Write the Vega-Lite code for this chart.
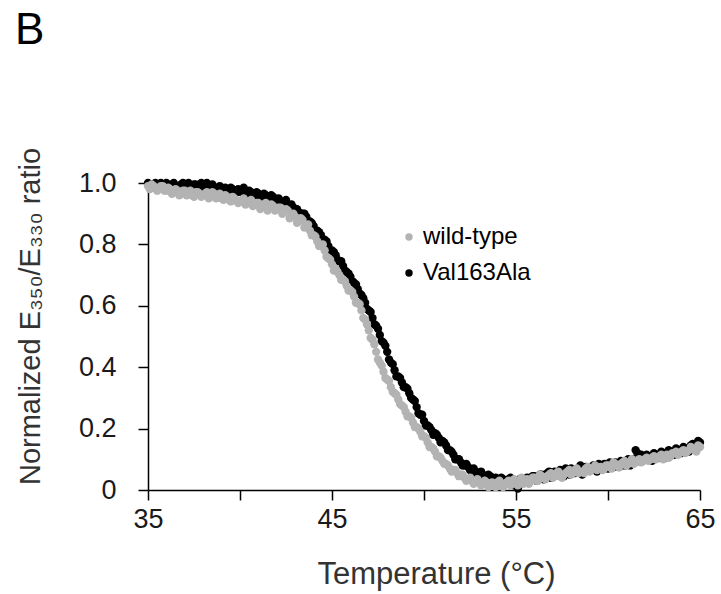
{
  "$schema": "https://vega.github.io/schema/vega-lite/v6.json",
  "width": 552,
  "height": 307,
  "autosize": "none",
  "padding": {"left": 148, "top": 183, "right": 21, "bottom": 104},
  "background": "white",
  "title": {"text": "B", "anchor": "start", "frame": "group", "dx": -133, "offset": 94, "fontSize": 44, "fontWeight": "normal", "font": "Liberation Sans", "color": "#000000"},
  "config": {
    "view": {"stroke": null},
    "font": "Liberation Sans",
    "axis": {"grid": false, "domainColor": "#000000", "tickColor": "#000000", "domainWidth": 1.5, "tickWidth": 1.5, "tickSize": 10, "labelFont": "Liberation Sans", "titleFont": "Liberation Sans", "labelFontSize": 27, "titleFontSize": 28, "titleFontWeight": "normal", "labelColor": "#1a1a1a", "titleColor": "#333333"}
  },
  "datasets": {
    "pts": [
      {"T":35.0,"r":1.0,"s":"Val163Ala"},{"T":35.2,"r":0.99,"s":"Val163Ala"},{"T":35.4,"r":1.0,"s":"Val163Ala"},{"T":35.6,"r":0.995,"s":"Val163Ala"},{"T":35.8,"r":0.985,"s":"Val163Ala"},
      {"T":36.0,"r":1.0,"s":"Val163Ala"},{"T":36.2,"r":0.99,"s":"Val163Ala"},{"T":36.4,"r":1.0,"s":"Val163Ala"},{"T":36.6,"r":0.985,"s":"Val163Ala"},{"T":36.8,"r":0.995,"s":"Val163Ala"},
      {"T":37.0,"r":0.99,"s":"Val163Ala"},{"T":37.2,"r":1.0,"s":"Val163Ala"},{"T":37.4,"r":0.985,"s":"Val163Ala"},{"T":37.6,"r":0.995,"s":"Val163Ala"},{"T":37.8,"r":0.99,"s":"Val163Ala"},
      {"T":38.0,"r":0.985,"s":"Val163Ala"},{"T":38.2,"r":1.0,"s":"Val163Ala"},{"T":38.4,"r":0.99,"s":"Val163Ala"},{"T":38.6,"r":0.98,"s":"Val163Ala"},{"T":38.8,"r":0.985,"s":"Val163Ala"},
      {"T":39.0,"r":0.975,"s":"Val163Ala"},{"T":39.2,"r":0.985,"s":"Val163Ala"},{"T":39.4,"r":0.975,"s":"Val163Ala"},{"T":39.6,"r":0.98,"s":"Val163Ala"},{"T":39.8,"r":0.97,"s":"Val163Ala"},
      {"T":40.0,"r":0.975,"s":"Val163Ala"},{"T":40.2,"r":0.985,"s":"Val163Ala"},{"T":40.4,"r":0.965,"s":"Val163Ala"},{"T":40.6,"r":0.97,"s":"Val163Ala"},{"T":40.8,"r":0.96,"s":"Val163Ala"},
      {"T":41.0,"r":0.965,"s":"Val163Ala"},{"T":41.2,"r":0.955,"s":"Val163Ala"},{"T":41.4,"r":0.96,"s":"Val163Ala"},{"T":41.6,"r":0.95,"s":"Val163Ala"},{"T":41.8,"r":0.955,"s":"Val163Ala"},
      {"T":42.0,"r":0.945,"s":"Val163Ala"},{"T":42.2,"r":0.935,"s":"Val163Ala"},{"T":42.4,"r":0.94,"s":"Val163Ala"},{"T":42.6,"r":0.925,"s":"Val163Ala"},{"T":42.8,"r":0.93,"s":"Val163Ala"},
      {"T":43.0,"r":0.915,"s":"Val163Ala"},{"T":43.2,"r":0.905,"s":"Val163Ala"},{"T":43.4,"r":0.9,"s":"Val163Ala"},{"T":43.6,"r":0.89,"s":"Val163Ala"},{"T":43.8,"r":0.875,"s":"Val163Ala"},
      {"T":44.0,"r":0.86,"s":"Val163Ala"},{"T":44.2,"r":0.845,"s":"Val163Ala"},{"T":44.4,"r":0.83,"s":"Val163Ala"},{"T":44.6,"r":0.815,"s":"Val163Ala"},{"T":44.8,"r":0.795,"s":"Val163Ala"},
      {"T":45.0,"r":0.78,"s":"Val163Ala"},{"T":45.2,"r":0.765,"s":"Val163Ala"},{"T":45.4,"r":0.745,"s":"Val163Ala"},{"T":45.6,"r":0.73,"s":"Val163Ala"},{"T":45.8,"r":0.71,"s":"Val163Ala"},
      {"T":46.0,"r":0.695,"s":"Val163Ala"},{"T":46.2,"r":0.675,"s":"Val163Ala"},{"T":46.4,"r":0.655,"s":"Val163Ala"},{"T":46.6,"r":0.635,"s":"Val163Ala"},{"T":46.8,"r":0.61,"s":"Val163Ala"},
      {"T":47.0,"r":0.585,"s":"Val163Ala"},{"T":47.2,"r":0.56,"s":"Val163Ala"},{"T":47.4,"r":0.535,"s":"Val163Ala"},{"T":47.6,"r":0.505,"s":"Val163Ala"},{"T":47.8,"r":0.48,"s":"Val163Ala"},
      {"T":48.0,"r":0.45,"s":"Val163Ala"},{"T":48.2,"r":0.415,"s":"Val163Ala"},{"T":48.4,"r":0.39,"s":"Val163Ala"},{"T":48.6,"r":0.37,"s":"Val163Ala"},{"T":48.8,"r":0.35,"s":"Val163Ala"},
      {"T":49.0,"r":0.335,"s":"Val163Ala"},{"T":49.2,"r":0.315,"s":"Val163Ala"},{"T":49.4,"r":0.295,"s":"Val163Ala"},{"T":49.6,"r":0.27,"s":"Val163Ala"},{"T":49.8,"r":0.245,"s":"Val163Ala"},
      {"T":50.0,"r":0.225,"s":"Val163Ala"},{"T":50.2,"r":0.21,"s":"Val163Ala"},{"T":50.4,"r":0.195,"s":"Val163Ala"},{"T":50.6,"r":0.185,"s":"Val163Ala"},{"T":50.8,"r":0.17,"s":"Val163Ala"},
      {"T":51.0,"r":0.16,"s":"Val163Ala"},{"T":51.2,"r":0.145,"s":"Val163Ala"},{"T":51.4,"r":0.13,"s":"Val163Ala"},{"T":51.6,"r":0.115,"s":"Val163Ala"},{"T":51.8,"r":0.1,"s":"Val163Ala"},
      {"T":52.0,"r":0.09,"s":"Val163Ala"},{"T":52.2,"r":0.08,"s":"Val163Ala"},{"T":52.4,"r":0.075,"s":"Val163Ala"},{"T":52.6,"r":0.065,"s":"Val163Ala"},{"T":52.8,"r":0.06,"s":"Val163Ala"},
      {"T":53.0,"r":0.055,"s":"Val163Ala"},{"T":53.2,"r":0.05,"s":"Val163Ala"},{"T":53.4,"r":0.04,"s":"Val163Ala"},{"T":53.6,"r":0.045,"s":"Val163Ala"},{"T":53.8,"r":0.035,"s":"Val163Ala"},
      {"T":54.0,"r":0.03,"s":"Val163Ala"},{"T":54.2,"r":0.04,"s":"Val163Ala"},{"T":54.4,"r":0.025,"s":"Val163Ala"},{"T":54.6,"r":0.035,"s":"Val163Ala"},{"T":54.8,"r":0.03,"s":"Val163Ala"},
      {"T":55.0,"r":0.02,"s":"Val163Ala"},{"T":55.2,"r":0.035,"s":"Val163Ala"},{"T":55.4,"r":0.03,"s":"Val163Ala"},{"T":55.6,"r":0.04,"s":"Val163Ala"},{"T":55.8,"r":0.03,"s":"Val163Ala"},
      {"T":56.0,"r":0.045,"s":"Val163Ala"},{"T":56.2,"r":0.035,"s":"Val163Ala"},{"T":56.4,"r":0.05,"s":"Val163Ala"},{"T":56.6,"r":0.04,"s":"Val163Ala"},{"T":56.8,"r":0.06,"s":"Val163Ala"},
      {"T":57.0,"r":0.045,"s":"Val163Ala"},{"T":57.2,"r":0.05,"s":"Val163Ala"},{"T":57.4,"r":0.065,"s":"Val163Ala"},{"T":57.6,"r":0.045,"s":"Val163Ala"},{"T":57.8,"r":0.06,"s":"Val163Ala"},
      {"T":58.0,"r":0.07,"s":"Val163Ala"},{"T":58.2,"r":0.055,"s":"Val163Ala"},{"T":58.4,"r":0.065,"s":"Val163Ala"},{"T":58.6,"r":0.05,"s":"Val163Ala"},{"T":58.8,"r":0.075,"s":"Val163Ala"},
      {"T":59.0,"r":0.065,"s":"Val163Ala"},{"T":59.2,"r":0.08,"s":"Val163Ala"},{"T":59.4,"r":0.06,"s":"Val163Ala"},{"T":59.6,"r":0.075,"s":"Val163Ala"},{"T":59.8,"r":0.085,"s":"Val163Ala"},
      {"T":60.0,"r":0.07,"s":"Val163Ala"},{"T":60.2,"r":0.08,"s":"Val163Ala"},{"T":60.4,"r":0.09,"s":"Val163Ala"},{"T":60.6,"r":0.075,"s":"Val163Ala"},{"T":60.8,"r":0.085,"s":"Val163Ala"},
      {"T":61.0,"r":0.095,"s":"Val163Ala"},{"T":61.2,"r":0.08,"s":"Val163Ala"},{"T":61.4,"r":0.1,"s":"Val163Ala"},{"T":61.6,"r":0.12,"s":"Val163Ala"},{"T":61.8,"r":0.115,"s":"Val163Ala"},
      {"T":62.0,"r":0.1,"s":"Val163Ala"},{"T":62.2,"r":0.11,"s":"Val163Ala"},{"T":62.4,"r":0.095,"s":"Val163Ala"},{"T":62.6,"r":0.115,"s":"Val163Ala"},{"T":62.8,"r":0.105,"s":"Val163Ala"},
      {"T":63.0,"r":0.12,"s":"Val163Ala"},{"T":63.2,"r":0.11,"s":"Val163Ala"},{"T":63.4,"r":0.125,"s":"Val163Ala"},{"T":63.6,"r":0.115,"s":"Val163Ala"},{"T":63.8,"r":0.13,"s":"Val163Ala"},
      {"T":64.0,"r":0.12,"s":"Val163Ala"},{"T":64.2,"r":0.135,"s":"Val163Ala"},{"T":64.4,"r":0.125,"s":"Val163Ala"},{"T":64.6,"r":0.15,"s":"Val163Ala"},{"T":64.8,"r":0.14,"s":"Val163Ala"},
      {"T":65.0,"r":0.155,"s":"Val163Ala"},
      {"T":35.1,"r":0.995,"s":"Val163Ala"},{"T":35.3,"r":0.985,"s":"Val163Ala"},{"T":35.5,"r":0.99,"s":"Val163Ala"},{"T":35.7,"r":1.0,"s":"Val163Ala"},{"T":35.9,"r":0.99,"s":"Val163Ala"},
      {"T":36.1,"r":0.985,"s":"Val163Ala"},{"T":36.3,"r":0.995,"s":"Val163Ala"},{"T":36.5,"r":0.98,"s":"Val163Ala"},{"T":36.7,"r":0.99,"s":"Val163Ala"},{"T":36.9,"r":1.0,"s":"Val163Ala"},
      {"T":37.1,"r":0.985,"s":"Val163Ala"},{"T":37.3,"r":0.99,"s":"Val163Ala"},{"T":37.5,"r":0.995,"s":"Val163Ala"},{"T":37.7,"r":0.98,"s":"Val163Ala"},{"T":37.9,"r":1.0,"s":"Val163Ala"},
      {"T":38.1,"r":0.99,"s":"Val163Ala"},{"T":38.3,"r":0.98,"s":"Val163Ala"},{"T":38.5,"r":0.995,"s":"Val163Ala"},{"T":38.7,"r":0.975,"s":"Val163Ala"},{"T":38.9,"r":0.99,"s":"Val163Ala"},
      {"T":39.1,"r":0.98,"s":"Val163Ala"},{"T":39.3,"r":0.97,"s":"Val163Ala"},{"T":39.5,"r":0.985,"s":"Val163Ala"},{"T":39.7,"r":0.965,"s":"Val163Ala"},{"T":39.9,"r":0.98,"s":"Val163Ala"},
      {"T":40.1,"r":0.97,"s":"Val163Ala"},{"T":40.3,"r":0.96,"s":"Val163Ala"},{"T":40.5,"r":0.975,"s":"Val163Ala"},{"T":40.7,"r":0.955,"s":"Val163Ala"},{"T":40.9,"r":0.97,"s":"Val163Ala"},
      {"T":41.1,"r":0.95,"s":"Val163Ala"},{"T":41.3,"r":0.965,"s":"Val163Ala"},{"T":41.5,"r":0.945,"s":"Val163Ala"},{"T":41.7,"r":0.96,"s":"Val163Ala"},{"T":41.9,"r":0.94,"s":"Val163Ala"},
      {"T":42.1,"r":0.95,"s":"Val163Ala"},{"T":42.3,"r":0.93,"s":"Val163Ala"},{"T":42.5,"r":0.945,"s":"Val163Ala"},{"T":42.7,"r":0.92,"s":"Val163Ala"},{"T":42.9,"r":0.92,"s":"Val163Ala"},
      {"T":43.1,"r":0.915,"s":"Val163Ala"},{"T":43.3,"r":0.895,"s":"Val163Ala"},{"T":43.5,"r":0.9,"s":"Val163Ala"},{"T":43.7,"r":0.875,"s":"Val163Ala"},{"T":43.9,"r":0.87,"s":"Val163Ala"},
      {"T":44.1,"r":0.845,"s":"Val163Ala"},{"T":44.3,"r":0.84,"s":"Val163Ala"},{"T":44.5,"r":0.815,"s":"Val163Ala"},{"T":44.7,"r":0.81,"s":"Val163Ala"},{"T":44.9,"r":0.78,"s":"Val163Ala"},
      {"T":45.1,"r":0.775,"s":"Val163Ala"},{"T":45.3,"r":0.75,"s":"Val163Ala"},{"T":45.5,"r":0.745,"s":"Val163Ala"},{"T":45.7,"r":0.715,"s":"Val163Ala"},{"T":45.9,"r":0.705,"s":"Val163Ala"},
      {"T":46.1,"r":0.68,"s":"Val163Ala"},{"T":46.3,"r":0.67,"s":"Val163Ala"},{"T":46.5,"r":0.64,"s":"Val163Ala"},{"T":46.7,"r":0.625,"s":"Val163Ala"},{"T":46.9,"r":0.59,"s":"Val163Ala"},
      {"T":47.1,"r":0.58,"s":"Val163Ala"},{"T":47.3,"r":0.54,"s":"Val163Ala"},{"T":47.5,"r":0.525,"s":"Val163Ala"},{"T":47.7,"r":0.485,"s":"Val163Ala"},{"T":47.9,"r":0.47,"s":"Val163Ala"},
      {"T":48.1,"r":0.425,"s":"Val163Ala"},{"T":48.3,"r":0.41,"s":"Val163Ala"},{"T":48.5,"r":0.37,"s":"Val163Ala"},{"T":48.7,"r":0.365,"s":"Val163Ala"},{"T":48.9,"r":0.335,"s":"Val163Ala"},
      {"T":49.1,"r":0.33,"s":"Val163Ala"},{"T":49.3,"r":0.3,"s":"Val163Ala"},{"T":49.5,"r":0.29,"s":"Val163Ala"},{"T":49.7,"r":0.25,"s":"Val163Ala"},{"T":49.9,"r":0.245,"s":"Val163Ala"},
      {"T":50.1,"r":0.21,"s":"Val163Ala"},{"T":50.3,"r":0.205,"s":"Val163Ala"},{"T":50.5,"r":0.18,"s":"Val163Ala"},{"T":50.7,"r":0.18,"s":"Val163Ala"},{"T":50.9,"r":0.155,"s":"Val163Ala"},
      {"T":51.1,"r":0.155,"s":"Val163Ala"},{"T":51.3,"r":0.13,"s":"Val163Ala"},{"T":51.5,"r":0.125,"s":"Val163Ala"},{"T":51.7,"r":0.1,"s":"Val163Ala"},{"T":51.9,"r":0.1,"s":"Val163Ala"},
      {"T":52.1,"r":0.08,"s":"Val163Ala"},{"T":52.3,"r":0.085,"s":"Val163Ala"},{"T":52.5,"r":0.065,"s":"Val163Ala"},{"T":52.7,"r":0.07,"s":"Val163Ala"},{"T":52.9,"r":0.05,"s":"Val163Ala"},
      {"T":53.1,"r":0.06,"s":"Val163Ala"},{"T":53.3,"r":0.04,"s":"Val163Ala"},{"T":53.5,"r":0.05,"s":"Val163Ala"},{"T":53.7,"r":0.03,"s":"Val163Ala"},{"T":53.9,"r":0.04,"s":"Val163Ala"},
      {"T":54.1,"r":0.025,"s":"Val163Ala"},{"T":54.3,"r":0.035,"s":"Val163Ala"},{"T":54.5,"r":0.02,"s":"Val163Ala"},{"T":54.7,"r":0.04,"s":"Val163Ala"},{"T":54.9,"r":0.015,"s":"Val163Ala"},
      {"T":55.1,"r":0.005,"s":"Val163Ala"},{"T":55.3,"r":0.025,"s":"Val163Ala"},{"T":55.5,"r":0.035,"s":"Val163Ala"},{"T":55.7,"r":0.025,"s":"Val163Ala"},{"T":55.9,"r":0.045,"s":"Val163Ala"},
      {"T":56.1,"r":0.03,"s":"Val163Ala"},{"T":56.3,"r":0.05,"s":"Val163Ala"},{"T":56.5,"r":0.035,"s":"Val163Ala"},{"T":56.7,"r":0.055,"s":"Val163Ala"},{"T":56.9,"r":0.04,"s":"Val163Ala"},
      {"T":57.1,"r":0.06,"s":"Val163Ala"},{"T":57.3,"r":0.05,"s":"Val163Ala"},{"T":57.5,"r":0.055,"s":"Val163Ala"},{"T":57.7,"r":0.07,"s":"Val163Ala"},{"T":57.9,"r":0.05,"s":"Val163Ala"},
      {"T":58.1,"r":0.065,"s":"Val163Ala"},{"T":58.3,"r":0.06,"s":"Val163Ala"},{"T":58.5,"r":0.08,"s":"Val163Ala"},{"T":58.7,"r":0.06,"s":"Val163Ala"},{"T":58.9,"r":0.07,"s":"Val163Ala"},
      {"T":59.1,"r":0.075,"s":"Val163Ala"},{"T":59.3,"r":0.065,"s":"Val163Ala"},{"T":59.5,"r":0.085,"s":"Val163Ala"},{"T":59.7,"r":0.07,"s":"Val163Ala"},{"T":59.9,"r":0.08,"s":"Val163Ala"},
      {"T":60.1,"r":0.09,"s":"Val163Ala"},{"T":60.3,"r":0.075,"s":"Val163Ala"},{"T":60.5,"r":0.085,"s":"Val163Ala"},{"T":60.7,"r":0.095,"s":"Val163Ala"},{"T":60.9,"r":0.08,"s":"Val163Ala"},
      {"T":61.1,"r":0.1,"s":"Val163Ala"},{"T":61.3,"r":0.09,"s":"Val163Ala"},{"T":61.5,"r":0.13,"s":"Val163Ala"},{"T":61.7,"r":0.105,"s":"Val163Ala"},{"T":61.9,"r":0.095,"s":"Val163Ala"},
      {"T":62.1,"r":0.115,"s":"Val163Ala"},{"T":62.3,"r":0.1,"s":"Val163Ala"},{"T":62.5,"r":0.12,"s":"Val163Ala"},{"T":62.7,"r":0.11,"s":"Val163Ala"},{"T":62.9,"r":0.125,"s":"Val163Ala"},
      {"T":63.1,"r":0.105,"s":"Val163Ala"},{"T":63.3,"r":0.13,"s":"Val163Ala"},{"T":63.5,"r":0.12,"s":"Val163Ala"},{"T":63.7,"r":0.135,"s":"Val163Ala"},{"T":63.9,"r":0.125,"s":"Val163Ala"},
      {"T":64.1,"r":0.14,"s":"Val163Ala"},{"T":64.3,"r":0.13,"s":"Val163Ala"},{"T":64.5,"r":0.145,"s":"Val163Ala"},{"T":64.7,"r":0.135,"s":"Val163Ala"},{"T":64.9,"r":0.16,"s":"Val163Ala"},
      {"T":35.0,"r":0.99,"s":"wild-type"},{"T":35.2,"r":0.995,"s":"wild-type"},{"T":35.4,"r":0.985,"s":"wild-type"},{"T":35.6,"r":0.98,"s":"wild-type"},{"T":35.8,"r":0.99,"s":"wild-type"},
      {"T":36.0,"r":0.975,"s":"wild-type"},{"T":36.2,"r":0.98,"s":"wild-type"},{"T":36.4,"r":0.97,"s":"wild-type"},{"T":36.6,"r":0.975,"s":"wild-type"},{"T":36.8,"r":0.965,"s":"wild-type"},
      {"T":37.0,"r":0.975,"s":"wild-type"},{"T":37.2,"r":0.97,"s":"wild-type"},{"T":37.4,"r":0.96,"s":"wild-type"},{"T":37.6,"r":0.97,"s":"wild-type"},{"T":37.8,"r":0.965,"s":"wild-type"},
      {"T":38.0,"r":0.96,"s":"wild-type"},{"T":38.2,"r":0.97,"s":"wild-type"},{"T":38.4,"r":0.955,"s":"wild-type"},{"T":38.6,"r":0.965,"s":"wild-type"},{"T":38.8,"r":0.96,"s":"wild-type"},
      {"T":39.0,"r":0.95,"s":"wild-type"},{"T":39.2,"r":0.96,"s":"wild-type"},{"T":39.4,"r":0.945,"s":"wild-type"},{"T":39.6,"r":0.955,"s":"wild-type"},{"T":39.8,"r":0.945,"s":"wild-type"},
      {"T":40.0,"r":0.94,"s":"wild-type"},{"T":40.2,"r":0.95,"s":"wild-type"},{"T":40.4,"r":0.935,"s":"wild-type"},{"T":40.6,"r":0.945,"s":"wild-type"},{"T":40.8,"r":0.93,"s":"wild-type"},
      {"T":41.0,"r":0.935,"s":"wild-type"},{"T":41.2,"r":0.925,"s":"wild-type"},{"T":41.4,"r":0.935,"s":"wild-type"},{"T":41.6,"r":0.92,"s":"wild-type"},{"T":41.8,"r":0.925,"s":"wild-type"},
      {"T":42.0,"r":0.915,"s":"wild-type"},{"T":42.2,"r":0.92,"s":"wild-type"},{"T":42.4,"r":0.905,"s":"wild-type"},{"T":42.6,"r":0.91,"s":"wild-type"},{"T":42.8,"r":0.895,"s":"wild-type"},
      {"T":43.0,"r":0.89,"s":"wild-type"},{"T":43.2,"r":0.875,"s":"wild-type"},{"T":43.4,"r":0.88,"s":"wild-type"},{"T":43.6,"r":0.86,"s":"wild-type"},{"T":43.8,"r":0.845,"s":"wild-type"},
      {"T":44.0,"r":0.83,"s":"wild-type"},{"T":44.2,"r":0.81,"s":"wild-type"},{"T":44.4,"r":0.795,"s":"wild-type"},{"T":44.6,"r":0.78,"s":"wild-type"},{"T":44.8,"r":0.755,"s":"wild-type"},
      {"T":45.0,"r":0.735,"s":"wild-type"},{"T":45.2,"r":0.72,"s":"wild-type"},{"T":45.4,"r":0.7,"s":"wild-type"},{"T":45.6,"r":0.685,"s":"wild-type"},{"T":45.8,"r":0.665,"s":"wild-type"},
      {"T":46.0,"r":0.65,"s":"wild-type"},{"T":46.2,"r":0.63,"s":"wild-type"},{"T":46.4,"r":0.61,"s":"wild-type"},{"T":46.6,"r":0.585,"s":"wild-type"},{"T":46.8,"r":0.555,"s":"wild-type"},
      {"T":47.0,"r":0.52,"s":"wild-type"},{"T":47.2,"r":0.49,"s":"wild-type"},{"T":47.4,"r":0.45,"s":"wild-type"},{"T":47.6,"r":0.415,"s":"wild-type"},{"T":47.8,"r":0.385,"s":"wild-type"},
      {"T":48.0,"r":0.36,"s":"wild-type"},{"T":48.2,"r":0.335,"s":"wild-type"},{"T":48.4,"r":0.315,"s":"wild-type"},{"T":48.6,"r":0.295,"s":"wild-type"},{"T":48.8,"r":0.275,"s":"wild-type"},
      {"T":49.0,"r":0.255,"s":"wild-type"},{"T":49.2,"r":0.24,"s":"wild-type"},{"T":49.4,"r":0.22,"s":"wild-type"},{"T":49.6,"r":0.205,"s":"wild-type"},{"T":49.8,"r":0.19,"s":"wild-type"},
      {"T":50.0,"r":0.175,"s":"wild-type"},{"T":50.2,"r":0.155,"s":"wild-type"},{"T":50.4,"r":0.14,"s":"wild-type"},{"T":50.6,"r":0.125,"s":"wild-type"},{"T":50.8,"r":0.11,"s":"wild-type"},
      {"T":51.0,"r":0.095,"s":"wild-type"},{"T":51.2,"r":0.085,"s":"wild-type"},{"T":51.4,"r":0.07,"s":"wild-type"},{"T":51.6,"r":0.065,"s":"wild-type"},{"T":51.8,"r":0.055,"s":"wild-type"},
      {"T":52.0,"r":0.05,"s":"wild-type"},{"T":52.2,"r":0.04,"s":"wild-type"},{"T":52.4,"r":0.035,"s":"wild-type"},{"T":52.6,"r":0.03,"s":"wild-type"},{"T":52.8,"r":0.03,"s":"wild-type"},
      {"T":53.0,"r":0.025,"s":"wild-type"},{"T":53.2,"r":0.02,"s":"wild-type"},{"T":53.4,"r":0.025,"s":"wild-type"},{"T":53.6,"r":0.015,"s":"wild-type"},{"T":53.8,"r":0.02,"s":"wild-type"},
      {"T":54.0,"r":0.025,"s":"wild-type"},{"T":54.2,"r":0.015,"s":"wild-type"},{"T":54.4,"r":0.02,"s":"wild-type"},{"T":54.6,"r":0.03,"s":"wild-type"},{"T":54.8,"r":0.02,"s":"wild-type"},
      {"T":55.0,"r":0.025,"s":"wild-type"},{"T":55.2,"r":0.03,"s":"wild-type"},{"T":55.4,"r":0.02,"s":"wild-type"},{"T":55.6,"r":0.035,"s":"wild-type"},{"T":55.8,"r":0.03,"s":"wild-type"},
      {"T":56.0,"r":0.04,"s":"wild-type"},{"T":56.2,"r":0.03,"s":"wild-type"},{"T":56.4,"r":0.045,"s":"wild-type"},{"T":56.6,"r":0.035,"s":"wild-type"},{"T":56.8,"r":0.05,"s":"wild-type"},
      {"T":57.0,"r":0.04,"s":"wild-type"},{"T":57.2,"r":0.055,"s":"wild-type"},{"T":57.4,"r":0.045,"s":"wild-type"},{"T":57.6,"r":0.05,"s":"wild-type"},{"T":57.8,"r":0.06,"s":"wild-type"},
      {"T":58.0,"r":0.05,"s":"wild-type"},{"T":58.2,"r":0.065,"s":"wild-type"},{"T":58.4,"r":0.055,"s":"wild-type"},{"T":58.6,"r":0.06,"s":"wild-type"},{"T":58.8,"r":0.07,"s":"wild-type"},
      {"T":59.0,"r":0.06,"s":"wild-type"},{"T":59.2,"r":0.07,"s":"wild-type"},{"T":59.4,"r":0.065,"s":"wild-type"},{"T":59.6,"r":0.075,"s":"wild-type"},{"T":59.8,"r":0.07,"s":"wild-type"},
      {"T":60.0,"r":0.08,"s":"wild-type"},{"T":60.2,"r":0.07,"s":"wild-type"},{"T":60.4,"r":0.085,"s":"wild-type"},{"T":60.6,"r":0.075,"s":"wild-type"},{"T":60.8,"r":0.09,"s":"wild-type"},
      {"T":61.0,"r":0.08,"s":"wild-type"},{"T":61.2,"r":0.09,"s":"wild-type"},{"T":61.4,"r":0.085,"s":"wild-type"},{"T":61.6,"r":0.095,"s":"wild-type"},{"T":61.8,"r":0.09,"s":"wild-type"},
      {"T":62.0,"r":0.1,"s":"wild-type"},{"T":62.2,"r":0.095,"s":"wild-type"},{"T":62.4,"r":0.105,"s":"wild-type"},{"T":62.6,"r":0.1,"s":"wild-type"},{"T":62.8,"r":0.11,"s":"wild-type"},
      {"T":63.0,"r":0.1,"s":"wild-type"},{"T":63.2,"r":0.115,"s":"wild-type"},{"T":63.4,"r":0.11,"s":"wild-type"},{"T":63.6,"r":0.12,"s":"wild-type"},{"T":63.8,"r":0.115,"s":"wild-type"},
      {"T":64.0,"r":0.125,"s":"wild-type"},{"T":64.2,"r":0.12,"s":"wild-type"},{"T":64.4,"r":0.13,"s":"wild-type"},{"T":64.6,"r":0.135,"s":"wild-type"},{"T":64.8,"r":0.125,"s":"wild-type"},
      {"T":65.0,"r":0.14,"s":"wild-type"},
      {"T":35.1,"r":0.98,"s":"wild-type"},{"T":35.3,"r":0.99,"s":"wild-type"},{"T":35.5,"r":0.975,"s":"wild-type"},{"T":35.7,"r":0.99,"s":"wild-type"},{"T":35.9,"r":0.975,"s":"wild-type"},
      {"T":36.1,"r":0.985,"s":"wild-type"},{"T":36.3,"r":0.965,"s":"wild-type"},{"T":36.5,"r":0.98,"s":"wild-type"},{"T":36.7,"r":0.96,"s":"wild-type"},{"T":36.9,"r":0.975,"s":"wild-type"},
      {"T":37.1,"r":0.96,"s":"wild-type"},{"T":37.3,"r":0.975,"s":"wild-type"},{"T":37.5,"r":0.955,"s":"wild-type"},{"T":37.7,"r":0.97,"s":"wild-type"},{"T":37.9,"r":0.955,"s":"wild-type"},
      {"T":38.1,"r":0.965,"s":"wild-type"},{"T":38.3,"r":0.95,"s":"wild-type"},{"T":38.5,"r":0.97,"s":"wild-type"},{"T":38.7,"r":0.95,"s":"wild-type"},{"T":38.9,"r":0.965,"s":"wild-type"},
      {"T":39.1,"r":0.945,"s":"wild-type"},{"T":39.3,"r":0.955,"s":"wild-type"},{"T":39.5,"r":0.94,"s":"wild-type"},{"T":39.7,"r":0.95,"s":"wild-type"},{"T":39.9,"r":0.935,"s":"wild-type"},
      {"T":40.1,"r":0.945,"s":"wild-type"},{"T":40.3,"r":0.93,"s":"wild-type"},{"T":40.5,"r":0.94,"s":"wild-type"},{"T":40.7,"r":0.925,"s":"wild-type"},{"T":40.9,"r":0.935,"s":"wild-type"},
      {"T":41.1,"r":0.915,"s":"wild-type"},{"T":41.3,"r":0.93,"s":"wild-type"},{"T":41.5,"r":0.91,"s":"wild-type"},{"T":41.7,"r":0.93,"s":"wild-type"},{"T":41.9,"r":0.91,"s":"wild-type"},
      {"T":42.1,"r":0.92,"s":"wild-type"},{"T":42.3,"r":0.9,"s":"wild-type"},{"T":42.5,"r":0.915,"s":"wild-type"},{"T":42.7,"r":0.885,"s":"wild-type"},{"T":42.9,"r":0.9,"s":"wild-type"},
      {"T":43.1,"r":0.87,"s":"wild-type"},{"T":43.3,"r":0.885,"s":"wild-type"},{"T":43.5,"r":0.855,"s":"wild-type"},{"T":43.7,"r":0.865,"s":"wild-type"},{"T":43.9,"r":0.83,"s":"wild-type"},
      {"T":44.1,"r":0.825,"s":"wild-type"},{"T":44.3,"r":0.795,"s":"wild-type"},{"T":44.5,"r":0.8,"s":"wild-type"},{"T":44.7,"r":0.76,"s":"wild-type"},{"T":44.9,"r":0.75,"s":"wild-type"},
      {"T":45.1,"r":0.715,"s":"wild-type"},{"T":45.3,"r":0.71,"s":"wild-type"},{"T":45.5,"r":0.685,"s":"wild-type"},{"T":45.7,"r":0.68,"s":"wild-type"},{"T":45.9,"r":0.65,"s":"wild-type"},
      {"T":46.1,"r":0.645,"s":"wild-type"},{"T":46.3,"r":0.61,"s":"wild-type"},{"T":46.5,"r":0.605,"s":"wild-type"},{"T":46.7,"r":0.56,"s":"wild-type"},{"T":46.9,"r":0.54,"s":"wild-type"},
      {"T":47.1,"r":0.495,"s":"wild-type"},{"T":47.3,"r":0.475,"s":"wild-type"},{"T":47.5,"r":0.425,"s":"wild-type"},{"T":47.7,"r":0.405,"s":"wild-type"},{"T":47.9,"r":0.365,"s":"wild-type"},
      {"T":48.1,"r":0.355,"s":"wild-type"},{"T":48.3,"r":0.32,"s":"wild-type"},{"T":48.5,"r":0.31,"s":"wild-type"},{"T":48.7,"r":0.28,"s":"wild-type"},{"T":48.9,"r":0.27,"s":"wild-type"},
      {"T":49.1,"r":0.24,"s":"wild-type"},{"T":49.3,"r":0.235,"s":"wild-type"},{"T":49.5,"r":0.205,"s":"wild-type"},{"T":49.7,"r":0.2,"s":"wild-type"},{"T":49.9,"r":0.175,"s":"wild-type"},
      {"T":50.1,"r":0.17,"s":"wild-type"},{"T":50.3,"r":0.14,"s":"wild-type"},{"T":50.5,"r":0.135,"s":"wild-type"},{"T":50.7,"r":0.11,"s":"wild-type"},{"T":50.9,"r":0.105,"s":"wild-type"},
      {"T":51.1,"r":0.085,"s":"wild-type"},{"T":51.3,"r":0.08,"s":"wild-type"},{"T":51.5,"r":0.06,"s":"wild-type"},{"T":51.7,"r":0.065,"s":"wild-type"},{"T":51.9,"r":0.045,"s":"wild-type"},
      {"T":52.1,"r":0.05,"s":"wild-type"},{"T":52.3,"r":0.03,"s":"wild-type"},{"T":52.5,"r":0.04,"s":"wild-type"},{"T":52.7,"r":0.02,"s":"wild-type"},{"T":52.9,"r":0.035,"s":"wild-type"},
      {"T":53.1,"r":0.015,"s":"wild-type"},{"T":53.3,"r":0.03,"s":"wild-type"},{"T":53.5,"r":0.01,"s":"wild-type"},{"T":53.7,"r":0.025,"s":"wild-type"},{"T":53.9,"r":0.01,"s":"wild-type"},
      {"T":54.1,"r":0.03,"s":"wild-type"},{"T":54.3,"r":0.01,"s":"wild-type"},{"T":54.5,"r":0.025,"s":"wild-type"},{"T":54.7,"r":0.015,"s":"wild-type"},{"T":54.9,"r":0.035,"s":"wild-type"},
      {"T":55.1,"r":0.015,"s":"wild-type"},{"T":55.3,"r":0.04,"s":"wild-type"},{"T":55.5,"r":0.025,"s":"wild-type"},{"T":55.7,"r":0.02,"s":"wild-type"},{"T":55.9,"r":0.04,"s":"wild-type"},
      {"T":56.1,"r":0.03,"s":"wild-type"},{"T":56.3,"r":0.05,"s":"wild-type"},{"T":56.5,"r":0.04,"s":"wild-type"},{"T":56.7,"r":0.045,"s":"wild-type"},{"T":56.9,"r":0.055,"s":"wild-type"},
      {"T":57.1,"r":0.045,"s":"wild-type"},{"T":57.3,"r":0.06,"s":"wild-type"},{"T":57.5,"r":0.04,"s":"wild-type"},{"T":57.7,"r":0.055,"s":"wild-type"},{"T":57.9,"r":0.065,"s":"wild-type"},
      {"T":58.1,"r":0.055,"s":"wild-type"},{"T":58.3,"r":0.07,"s":"wild-type"},{"T":58.5,"r":0.06,"s":"wild-type"},{"T":58.7,"r":0.055,"s":"wild-type"},{"T":58.9,"r":0.075,"s":"wild-type"},
      {"T":59.1,"r":0.065,"s":"wild-type"},{"T":59.3,"r":0.08,"s":"wild-type"},{"T":59.5,"r":0.07,"s":"wild-type"},{"T":59.7,"r":0.065,"s":"wild-type"},{"T":59.9,"r":0.08,"s":"wild-type"},
      {"T":60.1,"r":0.075,"s":"wild-type"},{"T":60.3,"r":0.09,"s":"wild-type"},{"T":60.5,"r":0.08,"s":"wild-type"},{"T":60.7,"r":0.085,"s":"wild-type"},{"T":60.9,"r":0.095,"s":"wild-type"},
      {"T":61.1,"r":0.085,"s":"wild-type"},{"T":61.3,"r":0.1,"s":"wild-type"},{"T":61.5,"r":0.09,"s":"wild-type"},{"T":61.7,"r":0.1,"s":"wild-type"},{"T":61.9,"r":0.095,"s":"wild-type"},
      {"T":62.1,"r":0.105,"s":"wild-type"},{"T":62.3,"r":0.1,"s":"wild-type"},{"T":62.5,"r":0.11,"s":"wild-type"},{"T":62.7,"r":0.105,"s":"wild-type"},{"T":62.9,"r":0.115,"s":"wild-type"},
      {"T":63.1,"r":0.11,"s":"wild-type"},{"T":63.3,"r":0.105,"s":"wild-type"},{"T":63.5,"r":0.12,"s":"wild-type"},{"T":63.7,"r":0.125,"s":"wild-type"},{"T":63.9,"r":0.12,"s":"wild-type"},
      {"T":64.1,"r":0.13,"s":"wild-type"},{"T":64.3,"r":0.125,"s":"wild-type"},{"T":64.5,"r":0.14,"s":"wild-type"},{"T":64.7,"r":0.13,"s":"wild-type"},{"T":64.9,"r":0.145,"s":"wild-type"}
    ]
  },
  "data": {"name": "pts"},
  "mark": {"type": "point", "filled": true, "opacity": 1, "size": 70, "shape": "circle"},
  "encoding": {
    "x": {"field": "T", "type": "quantitative", "scale": {"domain": [35, 65], "nice": false, "zero": false},
      "axis": {"title": "Temperature (°C)", "titleFontSize": 31, "titleX": 288, "titleAlign": "center", "values": [35, 40, 45, 50, 55, 60, 65], "labelExpr": "datum.value % 10 == 5 ? datum.label : ''", "labelPadding": 6, "titlePadding": 27, "labelFlush": false}},
    "y": {"field": "r", "type": "quantitative", "scale": {"domain": [0, 1], "nice": false},
      "axis": {"title": "Normalized E₃₅₀/E₃₃₀ ratio", "titleFontSize": 29, "titleY": 133, "titleAlign": "center", "values": [0, 0.2, 0.4, 0.6, 0.8, 1.0], "labelExpr": "datum.value == 0 ? '0' : format(datum.value, '.1f')", "labelPadding": 22, "titlePadding": 33}},
    "color": {"field": "s", "type": "nominal", "scale": {"domain": ["wild-type", "Val163Ala"], "range": ["#b3b3b3", "#000000"]},
      "legend": {"title": null, "orient": "none", "legendX": 249, "legendY": 42, "labelFontSize": 24, "labelFont": "Liberation Sans", "labelColor": "#000000", "symbolSize": 55, "symbolType": "circle", "labelOffset": 2, "rowPadding": 12, "padding": 0}}
  }
}
